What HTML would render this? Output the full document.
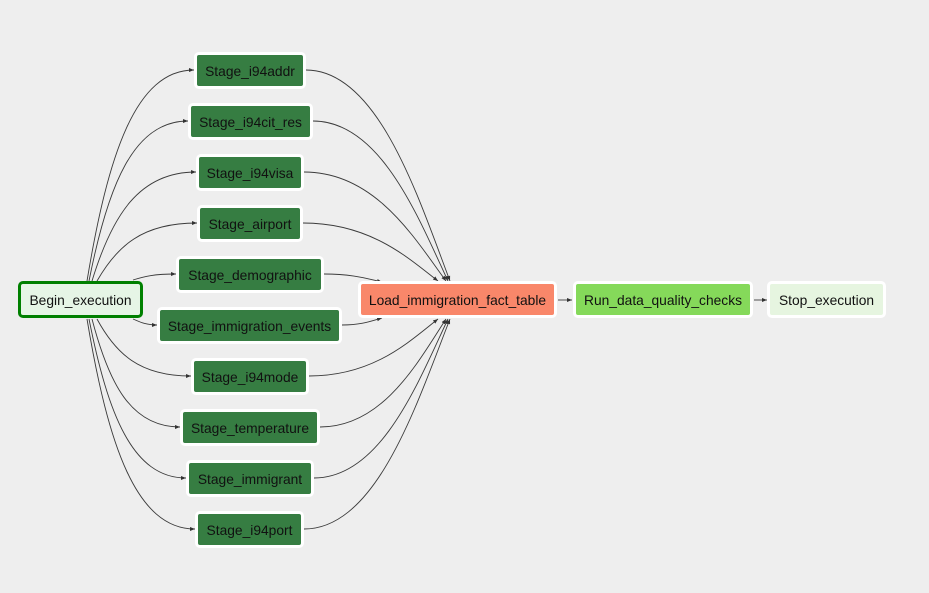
<!DOCTYPE html>
<html><head><meta charset="utf-8"><style>
html,body{margin:0;padding:0;background:#eeeeee;}
body{width:929px;height:593px;overflow:hidden;position:relative;font-family:"Liberation Sans",Arial,sans-serif;}
svg{position:absolute;left:0;top:0;}
.n{position:absolute;box-sizing:border-box;border:3px solid #fff;border-radius:5px;font-size:13.8px;color:#111;text-align:center;line-height:33px;height:37px;white-space:nowrap;}
.s{background:#367d42;}
</style></head><body>
<svg width="929" height="593">
<defs><marker id="a" markerWidth="6" markerHeight="6" refX="5" refY="3" orient="auto" markerUnits="userSpaceOnUse"><path d="M0,1 L5,3 L0,5z" fill="#333"/></marker></defs>
<g fill="none" stroke="#3a3a3a" stroke-width="0.9" marker-end="url(#a)">
<path d="M87,281 C108,154.4 135.5,70 194,70"/>
<path d="M89,281 C108,185 133.5,121 188,121"/>
<path d="M92,281 C112,215.6 139,172 196,172"/>
<path d="M97,281 C117,246.2 142,223 197,223"/>
<path d="M133,280 C144,276.4 154,274 176,274"/>
<path d="M133,319 C139,321.4 145,325 157,325"/>
<path d="M97,319 C115.5,353.2 139,376 191,376"/>
<path d="M92,319 C109,383.8 131,427 180,427"/>
<path d="M89,319 C108,414.4 132.5,478 186,478"/>
<path d="M87,319 C108,445 136,529 195,529"/>
<path d="M306,70 C378,70 418,196.6 450,281"/>
<path d="M313,121 C380.5,121 418,217 448,281"/>
<path d="M304,172 C375,172 414,237.4 446,281"/>
<path d="M303,223 C370.5,223 408,257.8 438,281"/>
<path d="M324,274 C353,274 367.5,278.8 382,282"/>
<path d="M342,325 C362,325 372,320.8 382,318"/>
<path d="M309,376 C373.5,376 409,341.8 438,319"/>
<path d="M320,427 C383,427 418,362.2 446,319"/>
<path d="M314,478 C381,478 418,382.6 448,319"/>
<path d="M304,529 C377,529 417,403 450,319"/>
<path d="M558,300 L572,300"/>
<path d="M754,300 L767,300"/>
</g></svg>
<div class="n" style="left:18px;top:281px;width:125px;background:#e6f5e6;border-color:#008000;">Begin_execution</div>
<div class="n s" style="left:194px;top:52px;width:112px;">Stage_i94addr</div>
<div class="n s" style="left:188px;top:103px;width:125px;">Stage_i94cit_res</div>
<div class="n s" style="left:196px;top:154px;width:108px;">Stage_i94visa</div>
<div class="n s" style="left:197px;top:205px;width:106px;">Stage_airport</div>
<div class="n s" style="left:176px;top:256px;width:148px;">Stage_demographic</div>
<div class="n s" style="left:157px;top:307px;width:185px;">Stage_immigration_events</div>
<div class="n s" style="left:191px;top:358px;width:118px;">Stage_i94mode</div>
<div class="n s" style="left:180px;top:409px;width:140px;">Stage_temperature</div>
<div class="n s" style="left:186px;top:460px;width:128px;">Stage_immigrant</div>
<div class="n s" style="left:195px;top:511px;width:109px;">Stage_i94port</div>
<div class="n" style="left:358px;top:281px;width:199px;background:#f9876a;">Load_immigration_fact_table</div>
<div class="n" style="left:573px;top:281px;width:180px;background:#85d95a;">Run_data_quality_checks</div>
<div class="n" style="left:767px;top:281px;width:119px;background:#e6f5e0;">Stop_execution</div>
</body></html>
